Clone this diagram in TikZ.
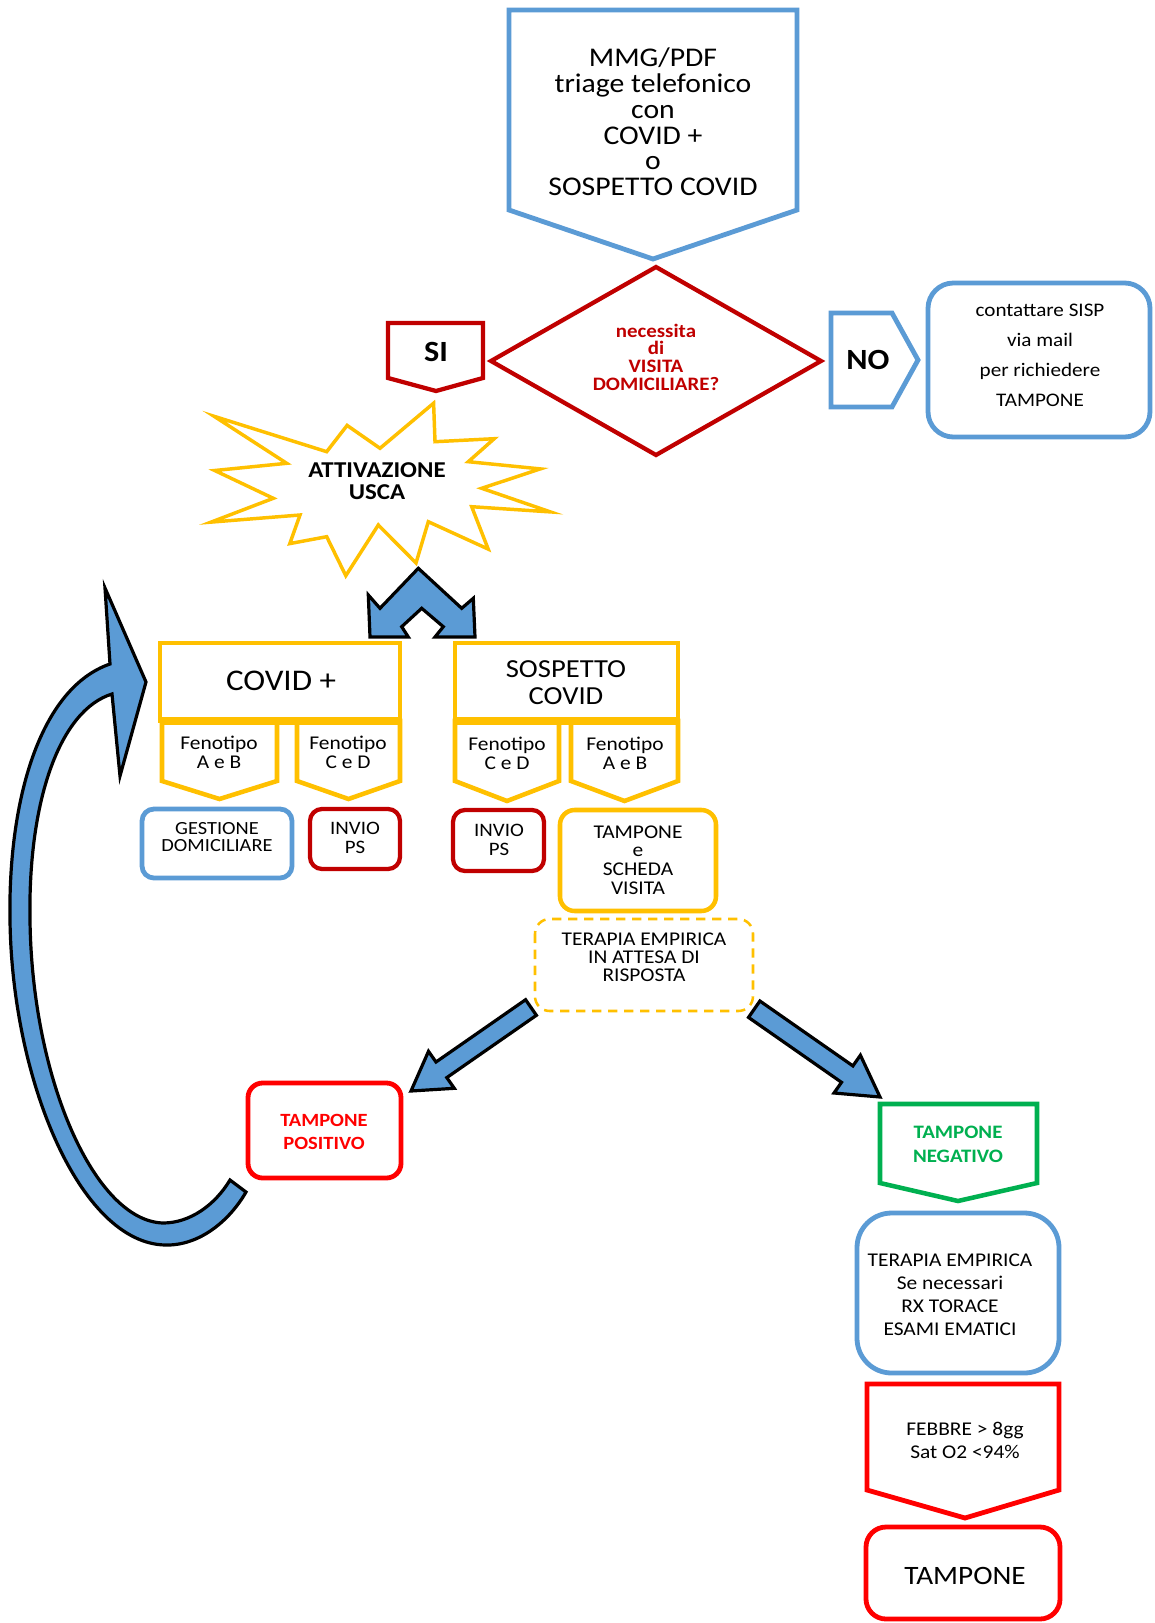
\documentclass[tikz,border=0pt]{standalone}
\usepackage{fontspec}
\setmainfont{Carlito}[FakeStretch=1.1]
\definecolor{mblue}{HTML}{5B9BD5}
\definecolor{dred}{HTML}{C00000}
\definecolor{myel}{HTML}{FFC000}
\definecolor{bred}{HTML}{FF0000}
\definecolor{mgreen}{HTML}{00B050}
\newcommand\fsz[2]{\fontsize{#1}{#2}\selectfont}
\begin{document}
\begin{tikzpicture}[x=0.75pt,y=-0.75pt,
  bluebox/.style={draw=mblue,line width=3.6pt},
  dredbox/.style={draw=dred,line width=3.2pt},
  yelbox/.style={draw=myel,line width=3.4pt},
  redbox/.style={draw=bred,line width=3.6pt},
  grnbox/.style={draw=mgreen,line width=3.4pt},
  blk/.style={fill=mblue,draw=black,line width=2.4pt,line join=miter},
  txt/.style={align=center,inner sep=0pt,text=black},
]
\fill[white] (0,0) rectangle (1154,1623);
\useasboundingbox (0,0) rectangle (1154,1623);

% top box
\draw[bluebox] (509,10) -- (797,10) -- (797,210) -- (653,259) -- (509,210) -- cycle;
\node[txt,font=\fsz{20.25pt}{19.35pt}] (mmg) at (653,122) {MMG/PDF\\triage telefonico\\con\\COVID +\\o\\SOSPETTO COVID};

% diamond
\draw[dredbox] (656,267) -- (821,361) -- (656,455) -- (491,361) -- cycle;
\node[txt,text=dred,font=\bfseries\fsz{14.25pt}{13.2pt}] (dom) at (656,357) {necessita\\di\\VISITA\\DOMICILIARE?};

% SI
\draw[dredbox] (388,323) -- (483,323) -- (483,378) -- (436,391) -- (388,378) -- cycle;
\node[txt,font=\bfseries\fsz{22pt}{22pt}] (si) at (436,352) {SI};

% NO
\draw[bluebox] (831,313) -- (892,313) -- (918,360) -- (892,407) -- (831,407) -- cycle;
\node[txt,font=\bfseries\fsz{22pt}{22pt}] (no) at (868,360) {NO};

% SISP
\draw[bluebox,rounded corners=19pt] (928,283) rectangle (1150,437);
\node[txt,font=\fsz{14.4pt}{22.5pt}] (sisp) at (1040,355) {contattare SISP\\via mail\\per richiedere\\TAMPONE};

% star
\draw[yelbox,line width=2.6pt,fill=white] (433.6,403.2) -- (435,441.7) -- (494.2,438.7) -- (468.3,461.7) -- (540.3,468.9) -- (481.7,488.3) -- (550.4,511.9) -- (471.7,506.7) -- (488.2,549.1) -- (428.3,521.7) -- (416,563) -- (378.3,525) -- (345.8,575.7) -- (326.7,536.7) -- (289.8,543.6) -- (300,515) -- (211.1,522.1) -- (273.3,498.3) -- (214.7,470.5) -- (286.7,463.3) -- (214.1,416.3) -- (326.7,451.7) -- (347.1,425.4) -- (380,448.3) -- cycle;
\node[txt,font=\bfseries\fsz{17pt}{16.3pt}] (usca) at (377,481) {ATTIVAZIONE\\USCA};

% double arrow
\draw[blk] (418.3,568.3) -- (461.7,608.3) -- (473.3,598.3) -- (475,637) -- (435,637) -- (443.3,626.7) -- (421.7,608.3) -- (401.7,626.7) -- (408.3,637) -- (370,637) -- (368.3,595) -- (380,608.3) -- cycle;

% COVID+ and SOSPETTO boxes
\draw[yelbox] (160,643) rectangle (400,721);
\node[txt,font=\fsz{22.5pt}{22.5pt}] (covp) at (281,681) {COVID +};
\draw[yelbox] (455,643) rectangle (678,721);
\node[txt,font=\fsz{19.5pt}{20.25pt}] (sosp) at (566,683) {SOSPETTO\\COVID};

% fenotipi
\draw[yelbox] (162,721) -- (277,721) -- (277,781) -- (219.5,799) -- (162,781) -- cycle;
\draw[yelbox] (297,721) -- (400,721) -- (400,781) -- (348.5,799) -- (297,781) -- cycle;
\draw[yelbox] (455,721) -- (559,721) -- (559,781) -- (507,801) -- (455,781) -- cycle;
\draw[yelbox] (571,721) -- (678,721) -- (678,781) -- (624.5,801) -- (571,781) -- cycle;
\draw[draw=myel,line width=6pt] (160,721) -- (400,721);
\draw[draw=myel,line width=6pt] (455,721) -- (678,721);
\node[txt,font=\fsz{14.6pt}{14pt}] (f1) at (219,752) {Fenotipo\\A e B};
\node[txt,font=\fsz{14.6pt}{14pt}] (f2) at (348,752) {Fenotipo\\C e D};
\node[txt,font=\fsz{14.6pt}{14pt}] (f3) at (507,753) {Fenotipo\\C e D};
\node[txt,font=\fsz{14.6pt}{14pt}] (f4) at (625,753) {Fenotipo\\A e B};

% outcome boxes
\draw[bluebox,rounded corners=9pt] (142,809) rectangle (292,878);
\node[txt,font=\fsz{13.9pt}{13.2pt}] (gest) at (217,837) {GESTIONE\\DOMICILIARE};
\draw[dredbox,rounded corners=9pt] (310,809) rectangle (400,869);
\node[txt,font=\fsz{14.25pt}{14pt}] (ps1) at (355,838) {INVIO\\PS};
\draw[dredbox,rounded corners=9pt] (453,810) rectangle (544,871);
\node[txt,font=\fsz{14.25pt}{14pt}] (ps2) at (499,840) {INVIO\\PS};
\draw[yelbox,rounded corners=11pt] (560,810) rectangle (716,911);
\node[txt,font=\fsz{14.6pt}{14pt}] (tsv) at (638,860) {TAMPONE\\e\\SCHEDA\\VISITA};

% dashed box
\draw[draw=myel,line width=1.9pt,dash pattern=on 7pt off 5pt,rounded corners=11pt] (535,919) rectangle (753,1011);
\node[txt,font=\fsz{14.6pt}{13.5pt}] (tera) at (644,957) {TERAPIA EMPIRICA\\IN ATTESA DI\\RISPOSTA};

% diagonal arrows
\draw[blk] (525.6,999.7) -- (436,1062) -- (428.5,1051.3) -- (411,1091) -- (454.3,1088.3) -- (446.8,1077.6) -- (536.4,1015.3) -- cycle;
\draw[blk] (759.9,1001) -- (852.9,1065.9) -- (860.4,1055.2) -- (880,1097) -- (834,1093) -- (841.5,1082.3) -- (748.5,1017.4) -- cycle;

% tampone positivo
\draw[redbox,rounded corners=11pt] (248,1083) rectangle (401,1178);
\node[txt,text=bred,font=\bfseries\fsz{14pt}{17.25pt}] (tpos) at (324,1132) {TAMPONE\\POSITIVO};

% tampone negativo
\draw[grnbox] (880,1104) -- (1037,1104) -- (1037,1183) -- (958,1201) -- (880,1183) -- cycle;
\node[txt,text=mgreen,font=\bfseries\fsz{14.25pt}{18pt}] (tneg) at (958,1144) {TAMPONE\\NEGATIVO};

% terapia empirica blue
\draw[bluebox,rounded corners=26pt] (857,1213) rectangle (1059,1373);
\node[txt,font=\fsz{14.6pt}{17.25pt}] (tera2) at (950,1295) {TERAPIA EMPIRICA\\Se necessari\\RX TORACE\\ESAMI EMATICI};

% febbre
\draw[redbox] (867,1384) -- (1059,1384) -- (1059,1490) -- (965,1518) -- (867,1490) -- cycle;
\node[txt,font=\fsz{14.6pt}{17.25pt}] (feb) at (965,1440) {FEBBRE > 8gg\\Sat O2 <94\%};

% tampone final
\draw[redbox,rounded corners=15pt] (866,1527) rectangle (1060,1619);
\node[txt,font=\fsz{19.9pt}{20pt}] (tfin) at (965,1576) {TAMPONE};

% curved return arrow
\draw[blk] (110,664) .. controls (40,688) and (8,800) .. (10,920) .. controls (12,1080) and (80,1243) .. (165,1245) .. controls (200,1246) and (230,1220) .. (246,1192) -- (230,1180) .. controls (215,1205) and (190,1223) .. (163,1223) .. controls (95,1221) and (32,1080) .. (30,920) .. controls (28,800) and (60,710) .. (112,694) -- (120,776) -- (146,682) -- (105,588) -- cycle;
\end{tikzpicture}
\end{document}
